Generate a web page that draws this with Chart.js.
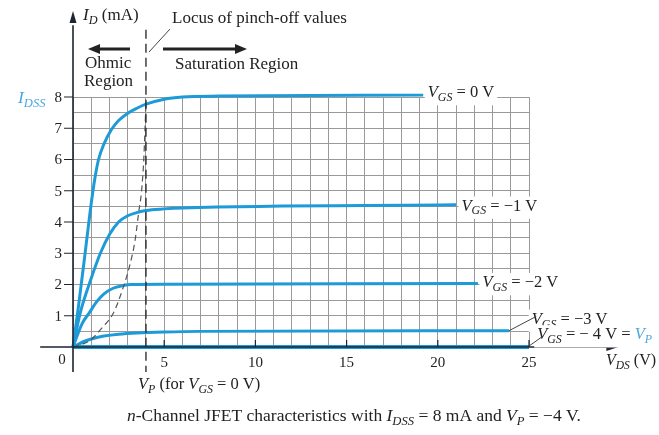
<!DOCTYPE html>
<html>
<head>
<meta charset="utf-8">
<title>JFET characteristics</title>
<script src="https://cdn.jsdelivr.net/npm/chart.js@4.4.1/dist/chart.umd.min.js"></script>
<style>
  html, body { margin: 0; padding: 0; background: #fff; }
  canvas { display: block; }
</style>
</head>
<body>
<canvas id="jfetChart" width="659" height="435"></canvas>
<script>
// drain curves, V_DS (V) vs I_D (mA)
const vgs0 = [
    [0, 0], [0.3, 1.3], [0.6, 2.7], [0.85, 3.9], [1.0, 4.6], [1.2, 5.4], [1.4, 6.0],
    [1.7, 6.5], [2.1, 6.95], [2.5, 7.25], [3, 7.48], [3.5, 7.64], [4, 7.77],
    [5, 7.93], [6, 8.0], [8, 8.03], [19.2, 8.06]
];
const vgsM1 = [
    [0, 0], [0.4, 1.1], [1.0, 2.2], [1.5, 3.0], [2.0, 3.6], [2.5, 4.0], [3, 4.2],
    [3.5, 4.3], [4, 4.37], [5, 4.42], [6, 4.45], [21, 4.55]
];
const vgsM2 = [
    [0, 0], [0.5, 0.75], [0.9, 1.1], [1.3, 1.45], [1.7, 1.7], [2.2, 1.88],
    [2.7, 1.96], [3.2, 2.0], [5, 2.01], [22.2, 2.03]
];
const vgsM3 = [
    [0, 0], [0.7, 0.2], [1.2, 0.29], [1.7, 0.35], [2.5, 0.41], [3.5, 0.45],
    [5, 0.48], [7, 0.5], [23.9, 0.52]
];
const vgsM4 = [[0, 0], [25, 0]];
// locus of pinch-off values
const pinchOff = [
    [0, 0], [0.9, 0.2], [1.65, 0.65], [2.2, 1.07], [2.75, 1.9], [3.15, 2.7],
    [3.4, 3.4], [3.6, 4.3], [3.76, 5], [3.88, 6], [3.95, 7], [4, 7.8]
];
// V_P marker for V_GS = 0 V
const vpLine = [[4, 10.15], [4, -0.8]];

const xTicks = [5, 10, 15, 20, 25];
const yTicks = [1, 2, 3, 4, 5, 6, 7, 8];

const BLUE = '#1d9ad8';
const LIGHT_BLUE = '#4aa8e0';
const INK = '#222';
const FONT = '"Liberation Serif", "Times New Roman", serif';

const pts = arr => arr.map(([x, y]) => ({ x, y }));

function curve(data, width) {
    return {
        data: pts(data),
        borderColor: BLUE,
        borderWidth: width || 3,
        showLine: true,
        pointRadius: 0,
        cubicInterpolationMode: 'monotone',
        clip: false
    };
}

// text with italic / subscript / coloured pieces: [text, flags]
function richText(ctx, parts, x, y, size, bg) {
    const pieces = parts.map(([t, f = '']) => {
        const sub = f.includes('s');
        const sz = sub ? size * 0.72 : size;
        const font = (f.includes('i') ? 'italic ' : '') + sz + 'px ' + FONT;
        ctx.font = font;
        return { t, font, sub, w: ctx.measureText(t).width, color: f.includes('b') ? LIGHT_BLUE : INK };
    });
    const total = pieces.reduce((s, p) => s + p.w, 0);
    if (bg) {
        ctx.fillStyle = '#fff';
        ctx.fillRect(x - 3, y - size * 0.6, total + 6, size * 1.35);
    }
    ctx.textBaseline = 'middle';
    ctx.textAlign = 'left';
    let cx = x;
    for (const p of pieces) {
        ctx.font = p.font;
        ctx.fillStyle = p.color;
        ctx.fillText(p.t, cx, p.sub ? y + size * 0.3 : y);
        cx += p.w;
    }
    return total;
}

function arrowHead(ctx, x, y, dir, len, half) {
    ctx.beginPath();
    if (dir === 'up') {
        ctx.moveTo(x, y); ctx.lineTo(x - half, y + len); ctx.lineTo(x + half, y + len);
    } else if (dir === 'right') {
        ctx.moveTo(x, y); ctx.lineTo(x - len, y - half); ctx.lineTo(x - len, y + half);
    } else {
        ctx.moveTo(x, y); ctx.lineTo(x + len, y - half); ctx.lineTo(x + len, y + half);
    }
    ctx.closePath();
    ctx.fill();
}

const annotations = {
    id: 'annotations',
    afterDatasetsDraw(chart) {
        const { ctx, scales: { x, y } } = chart;
        const px = v => x.getPixelForValue(v);
        const py = v => y.getPixelForValue(v);
        ctx.save();

        // axes
        ctx.strokeStyle = '#1c2530';
        ctx.fillStyle = '#1c2530';
        ctx.lineWidth = 1.6;
        ctx.beginPath();
        ctx.moveTo(px(-1.8), py(0)); ctx.lineTo(px(29.3), py(0));
        ctx.moveTo(px(0), py(-0.8)); ctx.lineTo(px(0), py(10.3));
        ctx.stroke();
        arrowHead(ctx, px(29.9), py(0), 'right', 12, 4);
        arrowHead(ctx, px(0), py(10.75), 'up', 12, 3.5);

        // tick marks and labels
        ctx.lineWidth = 1.2;
        ctx.beginPath();
        xTicks.forEach(v => { ctx.moveTo(px(v), py(0)); ctx.lineTo(px(v), py(0) - 7); });
        yTicks.forEach(v => { ctx.moveTo(px(0) - 9, py(v)); ctx.lineTo(px(0), py(v)); });
        ctx.stroke();

        ctx.fillStyle = INK;
        ctx.font = '15px ' + FONT;
        ctx.textBaseline = 'middle';
        ctx.textAlign = 'center';
        xTicks.forEach(v => ctx.fillText(String(v), px(v), py(0) + 16));
        ctx.textAlign = 'right';
        yTicks.forEach(v => ctx.fillText(String(v), px(0) - 11, py(v) + 1));
        ctx.textAlign = 'center';
        ctx.fillText('0', px(0) - 11, py(0) + 13);

        // axis titles
        richText(ctx, [['I', 'ib'], ['DSS', 'isb']], 18, py(8) + 1, 17.5);
        richText(ctx, [['I', 'i'], ['D', 'is'], [' (mA)']], 83, 16, 17);
        richText(ctx, [['V', 'i'], ['DS', 'is'], [' (V)']], 606, py(0) + 14, 16);
        richText(ctx, [['V', 'i'], ['P', 'is'], [' (for '], ['V', 'i'], ['GS', 'is'], [' = 0 V)']], 138, 385, 16.5);

        // region notes
        ctx.fillStyle = INK;
        ctx.font = '17px ' + FONT;
        ctx.textAlign = 'left';
        ctx.textBaseline = 'middle';
        ctx.fillText('Locus of pinch-off values', 172, 19);
        ctx.fillText('Ohmic', 85, 64);
        ctx.fillText('Region', 84, 82);
        ctx.fillText('Saturation Region', 175, 65);

        ctx.strokeStyle = INK;
        ctx.fillStyle = INK;
        ctx.lineWidth = 3;
        ctx.beginPath();
        ctx.moveTo(98, 49); ctx.lineTo(130, 49);
        ctx.moveTo(163, 49); ctx.lineTo(236, 49);
        ctx.stroke();
        arrowHead(ctx, 88, 49, 'left', 12, 5);
        arrowHead(ctx, 247, 49, 'right', 12, 5);

        ctx.lineWidth = 1;
        ctx.strokeStyle = '#444';
        ctx.beginPath();
        ctx.moveTo(149, 52); ctx.lineTo(170, 29);
        ctx.stroke();

        // curve labels
        const ls = 16.5;
        richText(ctx, [['V', 'i'], ['GS', 'is'], [' = 0 V']], px(19.45), py(8.13), ls, true);
        richText(ctx, [['V', 'i'], ['GS', 'is'], [' = −1 V']], px(21.3), py(4.5), ls, true);
        richText(ctx, [['V', 'i'], ['GS', 'is'], [' = −2 V']], px(22.45), py(2.05), ls, true);
        richText(ctx, [['V', 'i'], ['GS', 'is'], [' = −3 V']], px(25.15), py(0.88), ls, true);
        richText(ctx, [['V', 'i'], ['GS', 'is'], [' = − 4 V = '], ['V', 'ib'], ['P', 'isb']], px(25.45), py(0.38), ls, true);

        ctx.strokeStyle = '#444';
        ctx.lineWidth = 1;
        ctx.beginPath();
        ctx.moveTo(px(23.9), py(0.52)); ctx.lineTo(px(25.4), py(0.98));
        ctx.moveTo(px(25), py(0.03)); ctx.lineTo(px(25.7), py(0.32));
        ctx.stroke();

        // caption
        richText(ctx, [['n', 'i'], ['-Channel JFET characteristics with '], ['I', 'i'], ['DSS', 'is'],
            [' = 8 mA and '], ['V', 'i'], ['P', 'is'], [' = −4 V.']], 127, 416, 17.5);

        ctx.restore();
    }
};

new Chart(document.getElementById('jfetChart'), {
    type: 'scatter',
    data: {
        datasets: [
            {
                data: pts(vpLine),
                borderColor: '#222',
                borderWidth: 1.3,
                borderDash: [9, 5],
                showLine: true,
                pointRadius: 0,
                clip: false
            },
            {
                data: pts(pinchOff),
                borderColor: '#555',
                borderWidth: 1.2,
                borderDash: [6, 4],
                showLine: true,
                pointRadius: 0,
                cubicInterpolationMode: 'monotone',
                clip: false
            },
            curve(vgs0),
            curve(vgsM1),
            curve(vgsM2),
            curve(vgsM3),
            curve(vgsM4, 4)
        ]
    },
    options: {
        responsive: false,
        animation: false,
        devicePixelRatio: 1,
        layout: { padding: { left: 73, right: 130, top: 97, bottom: 88 } },
        plugins: { legend: { display: false }, tooltip: { enabled: false } },
        scales: {
            x: {
                type: 'linear', min: 0, max: 25,
                ticks: { stepSize: 1, display: false },
                grid: { color: '#9a9a9a', lineWidth: 1, drawTicks: false },
                border: { display: false },
                afterFit: s => { s.height = 0; }
            },
            y: {
                type: 'linear', min: 0, max: 8,
                ticks: { stepSize: 0.5, display: false },
                grid: { color: '#9a9a9a', lineWidth: 1, drawTicks: false },
                border: { display: false },
                afterFit: s => { s.width = 0; }
            }
        }
    },
    plugins: [annotations]
});
</script>
</body>
</html>
